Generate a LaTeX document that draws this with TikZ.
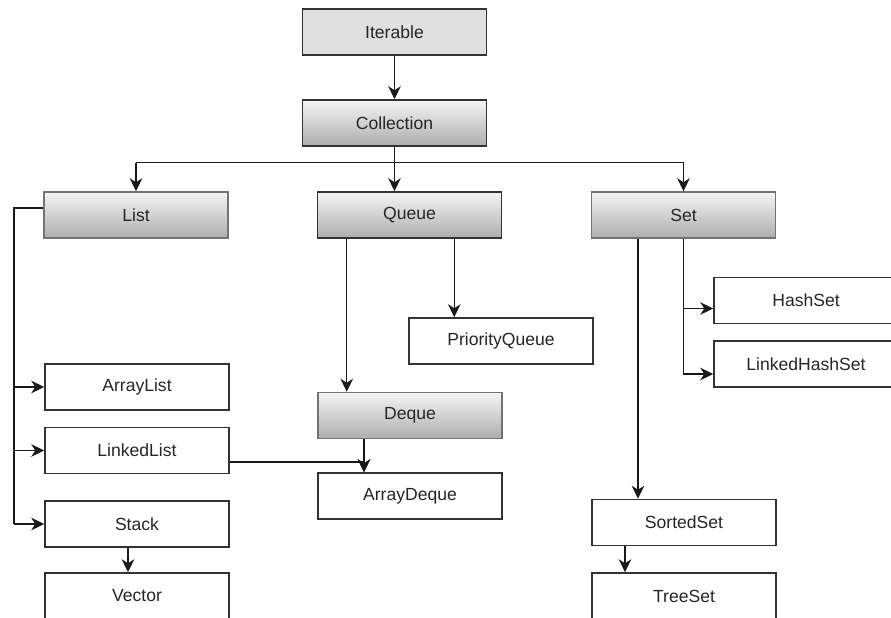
\documentclass[tikz,border=0pt]{standalone}
\usepackage{fontspec}
\setmainfont{Liberation Sans}
\usetikzlibrary{arrows.meta}

\begin{document}
\begin{tikzpicture}[
  box/.style={draw=black!80, line width=0.03cm, minimum width=3.68cm, minimum height=0.92cm, inner sep=0pt, font=\fontsize{10}{12}\selectfont, text=black!85},
  iface/.style={box, top color=black!4, bottom color=black!32},
  soft/.style={draw=black!55},
  cls/.style={box, fill=white},
  link/.style={black!90, line width=0.028cm},
  >={Stealth[length=0.26cm,width=0.25cm,inset=0.08cm]}
]
\useasboundingbox (0,0) rectangle (17.82,12.34);

% top of the tree
\node[box, fill=black!12] (iter) at (7.89,11.70) {Iterable};
\node[iface] (coll) at (7.89,9.88) {Collection};

% interfaces
\node[iface, soft] (list) at (2.72,8.04) {List};
\node[iface] (queue) at (8.19,8.04) {Queue};
\node[iface, soft] (set) at (13.67,8.04) {Set};
\node[iface, soft] (deque) at (8.20,4.03) {Deque};

% classes
\node[cls] (alist) at (2.74,4.60) {ArrayList};
\node[cls] (llist) at (2.74,3.33) {LinkedList};
\node[cls] (stack) at (2.74,1.86) {Stack};
\node[cls] (vector) at (2.74,0.42) {Vector};
\node[cls] (pq) at (10.02,5.52) {PriorityQueue};
\node[cls] (adeque) at (8.20,2.42) {ArrayDeque};
\node[cls] (hset) at (16.12,6.33) {HashSet};
\node[cls] (lhset) at (16.12,5.06) {LinkedHashSet};
\node[cls] (sset) at (13.68,1.89) {SortedSet};
\node[cls] (tset) at (13.68,0.42) {TreeSet};

\coordinate (split) at ([yshift=-0.32cm]coll.south);
\coordinate (rail) at (0.28,0);
\coordinate (adqin) at ([xshift=-0.92cm]adeque.north);

\draw[link,->] (iter) -- (coll);
\draw[link,->] (coll.south) -- (coll.south |- queue.north);
\draw[link] (list.north |- split) -- (set.north |- split);
\draw[link,->] (list.north |- split) -- (list.north);
\draw[link,->] (set.north |- split) -- (set.north);

% list side
\draw[link] ([yshift=0.14cm]list.west) -- ([yshift=0.14cm]list.west -| rail) -- (stack.west -| rail);
\draw[link,->] (alist.west -| rail) -- (alist.west);
\draw[link,->] (llist.west -| rail) -- (llist.west);
\draw[link,->] (stack.west -| rail) -- (stack.west);
\draw[link,->] ([xshift=-0.18cm]stack.south) -- ([xshift=-0.18cm]vector.north);

% queue side
\draw[link,->] ([xshift=0.6cm]queue.south west) -- ([xshift=0.6cm]queue.south west |- deque.north);
\draw[link,->] ([xshift=0.92cm]pq.north west |- queue.south) -- ([xshift=0.92cm]pq.north west);
\draw[link,->] ([xshift=-0.92cm]deque.south) -- (adqin);
\draw[link,->] ([yshift=-0.23cm]llist.east) -| (adqin);

% set side
\draw[link,->] (set.south) |- ([yshift=-0.16cm]hset.west);
\draw[link,->] (set.south) |- ([yshift=-0.2cm]lhset.west);
\draw[link,->] ([xshift=-0.91cm]set.south) -- ([xshift=-0.91cm]set.south |- sset.north);
\draw[link,->] ([xshift=-1.18cm]sset.south) -- ([xshift=-1.18cm]tset.north);

\end{tikzpicture}
\end{document}
